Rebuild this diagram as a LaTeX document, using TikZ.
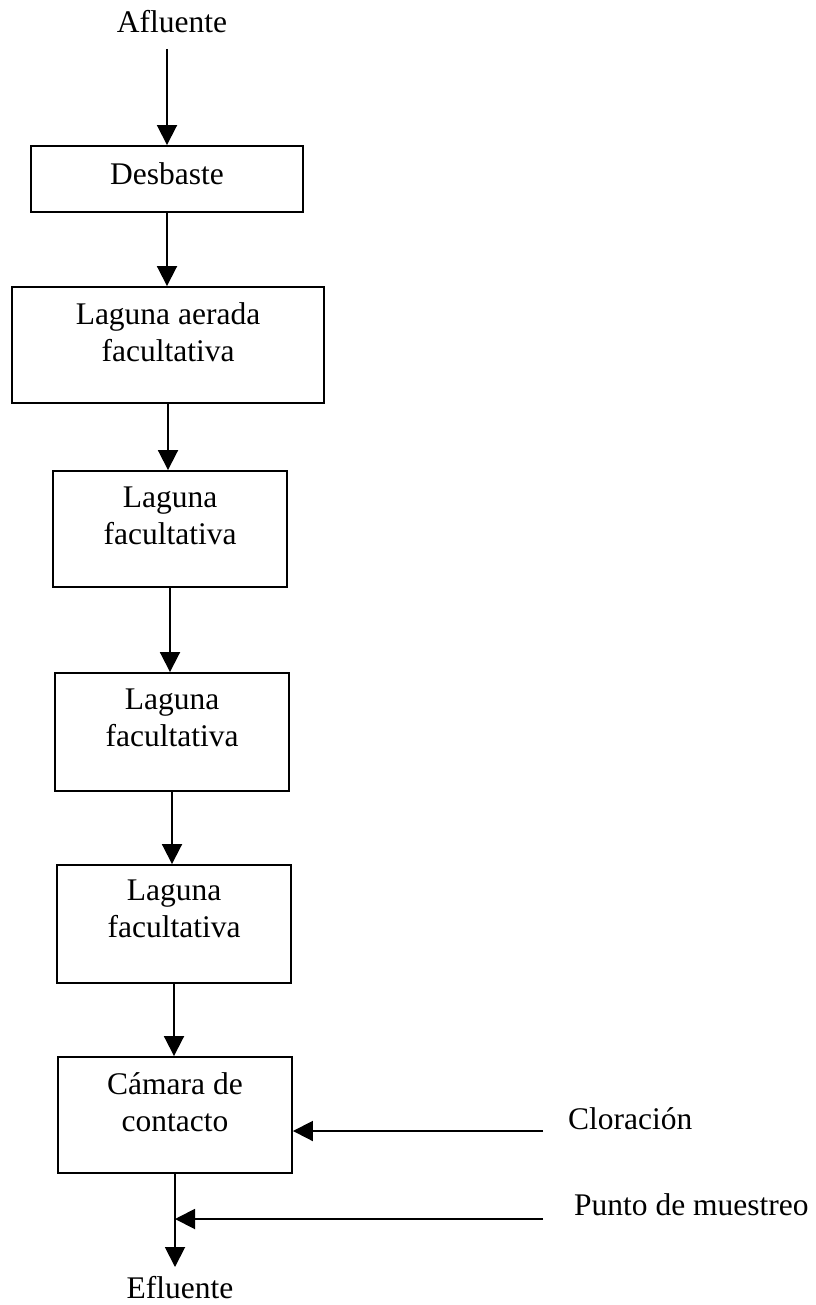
\documentclass[tikz,border=0pt]{standalone}
\usepackage{fontspec}
\setmainfont{Liberation Serif}
\usetikzlibrary{arrows.meta}
\begin{document}
\begin{tikzpicture}[x=1pt,y=-1pt,
  stage/.style={draw, line width=1.9pt, rectangle, inner sep=0pt},
  caption/.style={inner sep=0pt, align=center, font=\fontsize{31.5}{37}\selectfont, anchor=base},
  outer/.style={inner sep=0pt, font=\fontsize{31.5}{37}\selectfont},
  flow/.style={line width=1.9pt, -{Triangle[length=20pt,width=20pt]}}]
\useasboundingbox (0,0) rectangle (815,1305);

% process stages
\node[stage, minimum width=272pt, minimum height=66pt]  (des) at (167,179) {};
\node[stage, minimum width=312pt, minimum height=116pt] (aer) at (168,345) {};
\node[stage, minimum width=234pt, minimum height=116pt] (lf1) at (170,529) {};
\node[stage, minimum width=234pt, minimum height=118pt] (lf2) at (172,732) {};
\node[stage, minimum width=234pt, minimum height=118pt] (lf3) at (174,924) {};
\node[stage, minimum width=234pt, minimum height=116pt] (cam) at (175,1115) {};

% stage names (base anchor sits on the last line)
\node[caption] (tdes) at ([yshift=-39pt]des.north) {Desbaste};
\node[caption] (taer) at ([yshift=-75pt]aer.north) {Laguna aerada\\facultativa};
\node[caption] (tlf1) at ([yshift=-74pt]lf1.north) {Laguna\\facultativa};
\node[caption] (tlf2) at ([yshift=-74pt]lf2.north) {Laguna\\facultativa};
\node[caption] (tlf3) at ([yshift=-73pt]lf3.north) {Laguna\\facultativa};
\node[caption] (tcam) at ([yshift=-75pt]cam.north) {Cámara de\\contacto};

% inflow, outflow and side inputs
\node[outer, anchor=base] (afl) at (172,33) {Afluente};
\node[outer, anchor=base] (efl) at (180,1298) {Efluente};
\node[outer, anchor=base west] (clo) at (568,1129) {Cloración};
\node[outer, anchor=base west] (pun) at (574,1215) {Punto de muestreo};

% main flow
\draw[flow] ([yshift=-16pt]des.north |- afl.base) -- (des.north);
\draw[flow] (des.south) -- (des.south |- aer.north);
\draw[flow] (aer.south) -- (aer.south |- lf1.north);
\draw[flow] (lf1.south) -- (lf1.south |- lf2.north);
\draw[flow] (lf2.south) -- (lf2.south |- lf3.north);
\draw[flow] (lf3.south) -- (lf3.south |- cam.north);
\coordinate (eflin) at ([yshift=31pt]efl.base);
\draw[flow] (cam.south) -- (cam.south |- eflin);

% side connections
\coordinate (cloin) at ([xshift=-25pt,yshift=-2pt]clo.base west);
\draw[flow] (cloin) -- (cloin -| cam.east);
\coordinate (punin) at ([xshift=-31pt,yshift=-4pt]pun.base west);
\draw[flow] (punin) -- (punin -| cam.south);
\end{tikzpicture}
\end{document}
